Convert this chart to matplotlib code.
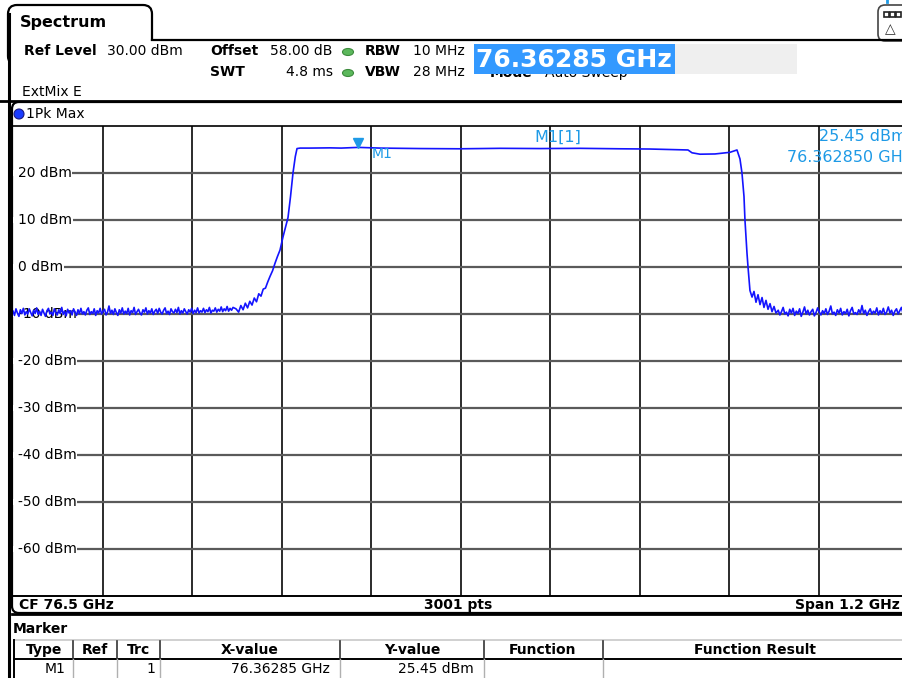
import numpy as np
import matplotlib.pyplot as plt
from matplotlib.patches import Rectangle, FancyBboxPatch, Ellipse, Circle
import matplotlib.transforms as mtransforms

cf_ghz = 76.5
span_ghz = 1.2
ref_level = 30.0
f_start = cf_ghz - span_ghz / 2
f_stop = cf_ghz + span_ghz / 2

# Rauschboden links
left_floor_dbm = [
    -9.4, -10.3, -8.9, -9.8, -10.5, -9.1, -9.9, -8.8, -10.2, -9.5,
    -10.0, -8.9, -9.7, -10.4, -9.2, -9.9, -8.7, -10.1, -9.4, -10.3,
    -9.0, -9.8, -10.5, -9.3, -8.8, -10.0, -9.6, -10.3, -8.9, -9.7,
    -10.2, -9.1, -9.9, -8.6, -10.1, -9.4, -10.4, -9.0, -9.8, -9.3,
    -10.2, -8.9, -9.6, -10.3, -9.1, -9.9, -8.8, -10.0, -9.5, -10.2,
    -9.2, -8.7, -10.1, -9.5, -9.9, -8.9, -10.3, -9.3, -9.8, -8.8,
    -10.0, -9.4, -9.0, -10.2, -9.6, -8.3, -9.9, -9.2, -10.1, -8.9,
    -9.7, -10.3, -9.1, -9.8, -8.7, -10.0, -9.4, -9.9, -8.8, -10.2,
    -9.3, -9.7, -8.6, -10.1, -9.5, -9.0, -9.8, -10.2, -9.1, -9.6,
    -8.7, -10.0, -9.3, -9.8, -8.9, -10.1, -9.4, -9.0, -9.9, -8.8,
    -9.6, -10.0, -9.2, -8.7, -9.9, -9.4, -10.1, -8.9, -9.5, -9.8,
    -9.0, -9.7, -8.6, -10.0, -9.3, -9.8, -8.9, -9.5, -10.0, -9.1,
    -9.6, -8.8, -9.9, -9.2, -9.7, -8.7, -9.8, -9.3, -9.6, -8.8,
    -9.7, -9.1, -9.5, -8.6, -9.8, -9.2, -9.4, -8.7, -9.6, -9.0,
    -9.4, -8.5, -9.5, -8.9, -9.3, -8.4, -9.4, -8.8, -9.2, -8.6,
]
left_floor_ghz = np.linspace(f_start, 76.195, len(left_floor_dbm))

# Anstieg, Plateau, Abfall
edge_ghz = [
    76.1990, 76.2025, 76.2055, 76.2085, 76.2115, 76.2145, 76.2175, 76.2205,
    76.2235, 76.2265, 76.2295, 76.2325, 76.2355, 76.2385, 76.2415, 76.2446,
    76.2480, 76.2513, 76.2545, 76.2580, 76.2620, 76.2655, 76.2687, 76.2721,
    76.2754, 76.2785, 76.2808,
    76.2850, 76.2982, 76.3250, 76.3400, 76.36285, 76.3921, 76.4457, 76.4993,
    76.5530, 76.6066, 76.6602, 76.7139, 76.7541, 76.7943, 76.8050, 76.8104,
    76.8211, 76.8412, 76.8613, 76.8707, 76.8747, 76.8774, 76.8801, 76.8814,
    76.8841, 76.8855, 76.8881,
    76.8909, 76.8935, 76.8962, 76.8989, 76.9016, 76.9043, 76.9069, 76.9096,
    76.9123, 76.9150, 76.9177, 76.9204, 76.9230,
]
edge_dbm = [
    -8.9, -9.6, -8.2, -9.1, -7.7, -8.7, -7.3, -8.1,
    -6.6, -7.4, -5.7, -6.2, -4.7, -4.5, -3.2, -2.0,
    -0.8, 0.8, 2.2, 3.6, 6.4, 8.5, 10.5, 15.0,
    20.0, 23.5, 25.2,
    25.3, 25.3, 25.35, 25.3, 25.45, 25.3, 25.2, 25.15,
    25.25, 25.2, 25.25, 25.15, 25.1, 24.95, 24.9, 24.3,
    24.0, 24.05, 24.4, 24.9, 23.0, 20.0, 15.0, 10.0,
    3.0, 0.0, -5.0,
    -6.4, -5.2, -7.5, -5.9, -8.0, -6.5, -8.6, -7.1,
    -9.0, -7.8, -9.5, -8.4, -9.8,
]

# Rauschboden rechts
right_floor_dbm = [
    -9.2, -10.2, -9.5, -8.6, -10.0, -9.6, -10.4, -9.0, -9.8, -8.8,
    -10.3, -9.4, -9.9, -8.9, -10.5, -9.6, -8.5, -10.0, -9.2, -10.2,
    -9.5, -9.0, -10.4, -9.7, -8.7, -9.6, -10.2, -9.3, -9.9, -8.9,
    -10.1, -9.4, -8.3, -10.0, -9.6, -10.3, -9.1, -9.8, -8.8, -10.2,
    -9.5, -9.9, -9.0, -10.4, -9.3, -8.6, -10.0, -9.7, -10.1, -9.1,
    -9.8, -8.2, -9.9, -9.2, -10.3, -9.5, -8.9, -10.0, -9.4, -9.8,
    -8.7, -10.2, -9.3, -9.9, -8.8, -10.1, -9.6, -8.5, -9.8, -9.2,
    -10.3, -9.4, -8.9, -10.0, -9.3, -8.6, -9.9, -9.5, -10.2, -9.0,
]
right_floor_ghz = np.linspace(76.926, f_stop, len(right_floor_dbm))

m1_ghz = 76.36285
m1_dbm = 25.45
y_levels = [20, 10, 0, -10, -20, -30, -40, -50, -60]

TRACE = '#1414ff'
MK = '#1e9ae6'

fig = plt.figure(figsize=(9.03, 6.78), dpi=100)
bg = fig.add_axes([0, 0, 1, 1])
bg.set_xlim(0, 903)
bg.set_ylim(678, 0)
bg.axis('off')

# Reiter "Spectrum"
tab = FancyBboxPatch((8, 5), 144, 60, boxstyle='round,pad=0,rounding_size=9',
                     fc='white', ec='black', lw=1.6, zorder=1)
bg.add_patch(tab)
bg.add_patch(Rectangle((10, 41), 150, 30, fc='white', ec='none', zorder=2))
bg.plot([152, 903], [40, 40], color='black', lw=1.6, zorder=3)
bg.plot([8.8, 8.8], [14, 678], color='black', lw=2.2, zorder=3)
bg.text(20, 23, 'Spectrum', fontsize=11.5, fontweight='bold', va='center', zorder=4)

# Symbol oben rechts
icon = FancyBboxPatch((878, 5), 40, 36, boxstyle='round,pad=0,rounding_size=7',
                      fc='white', ec='#444444', lw=1.2, zorder=1)
bg.add_patch(icon)
for ix in [884, 890, 896]:
    bg.add_patch(Rectangle((ix, 12), 5, 5, fc='white', ec='#222222', lw=1.2, zorder=4))
bg.text(890, 29, '△', fontsize=10, ha='center', va='center', color='#333333', zorder=4)
bg.plot([887, 887], [0, 2], color=MK, lw=2, zorder=4)

# Kopfzeilen
fs = 10
bg.text(24, 51, 'Ref Level', fontsize=fs, fontweight='bold', va='center')
bg.text(107, 51, '30.00 dBm', fontsize=fs, va='center')
bg.text(210, 51, 'Offset', fontsize=fs, fontweight='bold', va='center')
bg.text(270, 51, '58.00 dB', fontsize=fs, va='center')
bg.text(210, 72, 'SWT', fontsize=fs, fontweight='bold', va='center')
bg.text(333, 72, '4.8 ms', fontsize=fs, va='center', ha='right')
for yy in [52, 73]:
    bg.add_patch(Ellipse((348, yy), 11, 7, fc='#5cb85c', ec='#3d8b3d', lw=0.8))
bg.text(365, 51, 'RBW', fontsize=fs, fontweight='bold', va='center')
bg.text(413, 51, '10 MHz', fontsize=fs, va='center')
bg.text(365, 72, 'VBW', fontsize=fs, fontweight='bold', va='center')
bg.text(413, 72, '28 MHz', fontsize=fs, va='center')
bg.text(22, 92, 'ExtMix E', fontsize=fs, va='center')
bg.text(490, 73, 'Mode', fontsize=fs, fontweight='bold', va='center', zorder=2)
bg.text(545, 73, 'Auto Sweep', fontsize=fs, va='center', zorder=2)
bg.add_patch(Rectangle((474, 44), 201, 30, fc='#3399ff', ec='none', zorder=3))
bg.add_patch(Rectangle((675, 44), 122, 30, fc='#efefef', ec='none', zorder=3))
bg.text(476, 60, f'{m1_ghz:.5f} GHz', fontsize=18, fontweight='bold', color='white',
        va='center', zorder=4)

# Diagrammfenster
bg.plot([0, 903], [101, 101], color='black', lw=2, zorder=3)
panel = FancyBboxPatch((12, 102), 910, 511, boxstyle='round,pad=0,rounding_size=7',
                       fc='none', ec='black', lw=1.6, zorder=3)
bg.add_patch(panel)
bg.add_patch(Circle((19, 114), 5, fc='#1a3cff', ec='#1a1a80', lw=0.8, zorder=4))
bg.text(26, 114, '1Pk Max', fontsize=fs, va='center')
bg.text(19, 605, f'CF {cf_ghz} GHz', fontsize=fs, fontweight='bold', va='center')
bg.text(458, 605, '3001 pts', fontsize=fs, fontweight='bold', va='center', ha='center')
bg.text(900, 605, f'Span {span_ghz} GHz', fontsize=fs, fontweight='bold', va='center', ha='right')
bg.plot([12, 903], [614, 614], color='black', lw=2, zorder=3)

# Markertabelle
bg.text(13, 629, 'Marker', fontsize=fs, fontweight='bold', va='center')
bg.plot([14, 903], [640, 640], color='#c8c8c8', lw=1.2)
bg.plot([14, 903], [659, 659], color='black', lw=1.4)
bg.plot([14.5, 14.5], [640, 678], color='black', lw=1.4)
for sx in [73, 117, 160, 340, 484, 603]:
    bg.plot([sx, sx], [641, 659], color='#333333', lw=1.2)
    bg.plot([sx, sx], [659, 678], color='#b0b0b0', lw=1.0)
headers = ['Type', 'Ref', 'Trc', 'X-value', 'Y-value', 'Function', 'Function Result']
hx = [44, 95, 139, 250, 412, 543, 755]
for h, x in zip(headers, hx):
    bg.text(x, 650, h, fontsize=fs, fontweight='bold', va='center', ha='center')
bg.text(66, 669, 'M1', fontsize=fs, va='center', ha='right')
bg.text(155, 669, '1', fontsize=fs, va='center', ha='right')
bg.text(330, 669, f'{m1_ghz:.5f} GHz', fontsize=fs, va='center', ha='right')
bg.text(474, 669, f'{m1_dbm:.2f} dBm', fontsize=fs, va='center', ha='right')

# Messkurve
ax = fig.add_axes([13 / 903, (678 - 596) / 678, 895 / 903, 470 / 678])
ax.set_facecolor('none')
ax.set_xlim(f_start, f_stop)
ax.set_ylim(ref_level - 100, ref_level)
ax.set_xticks([])
ax.set_yticks([])
for s in ['left', 'right']:
    ax.spines[s].set_visible(False)
ax.spines['top'].set_linewidth(1.2)
ax.spines['bottom'].set_linewidth(1.4)
for k in range(1, 10):
    ax.axvline(f_start + k * span_ghz / 10, color='#1a1a1a', lw=1.3, zorder=1)
for v in range(-60, 30, 10):
    ax.axhline(v, color='#5a5a5a', lw=1.6, zorder=1)
ytr = mtransforms.blended_transform_factory(ax.transAxes, ax.transData)
for v in y_levels:
    ax.add_patch(Rectangle((0, v - 0.6), 0.006, 1.2, transform=ytr, fc='white',
                           ec='none', zorder=1.5))
    ax.text(0.0056, v, f'{v} dBm', transform=ytr, fontsize=fs, va='center',
            bbox=dict(fc='white', ec='none', pad=0.4), zorder=2)

freq = np.concatenate([left_floor_ghz, edge_ghz, right_floor_ghz])
level = np.concatenate([left_floor_dbm, edge_dbm, right_floor_dbm])
ax.plot(freq, level, color=TRACE, lw=1.2, zorder=3)

ax.plot([m1_ghz], [m1_dbm + 1.0], marker='v', color=MK, ms=7, zorder=4)
ax.annotate('M1', (m1_ghz, m1_dbm), xytext=(10, -5), textcoords='offset points',
            fontsize=fs, color=MK, va='center', zorder=4)
mfs = 11.5
ax.text(0.609, 0.977, 'M1[1]', transform=ax.transAxes, fontsize=mfs, color=MK,
        ha='center', va='center')
ax.text(0.999, 0.977, f'{m1_dbm:.2f} dBm', transform=ax.transAxes, fontsize=mfs,
        color=MK, ha='right', va='center')
ax.text(1.003, 0.934, f'{m1_ghz:.6f} GHz', transform=ax.transAxes, fontsize=mfs,
        color=MK, ha='right', va='center')

fig.savefig('out.png', dpi=100)
